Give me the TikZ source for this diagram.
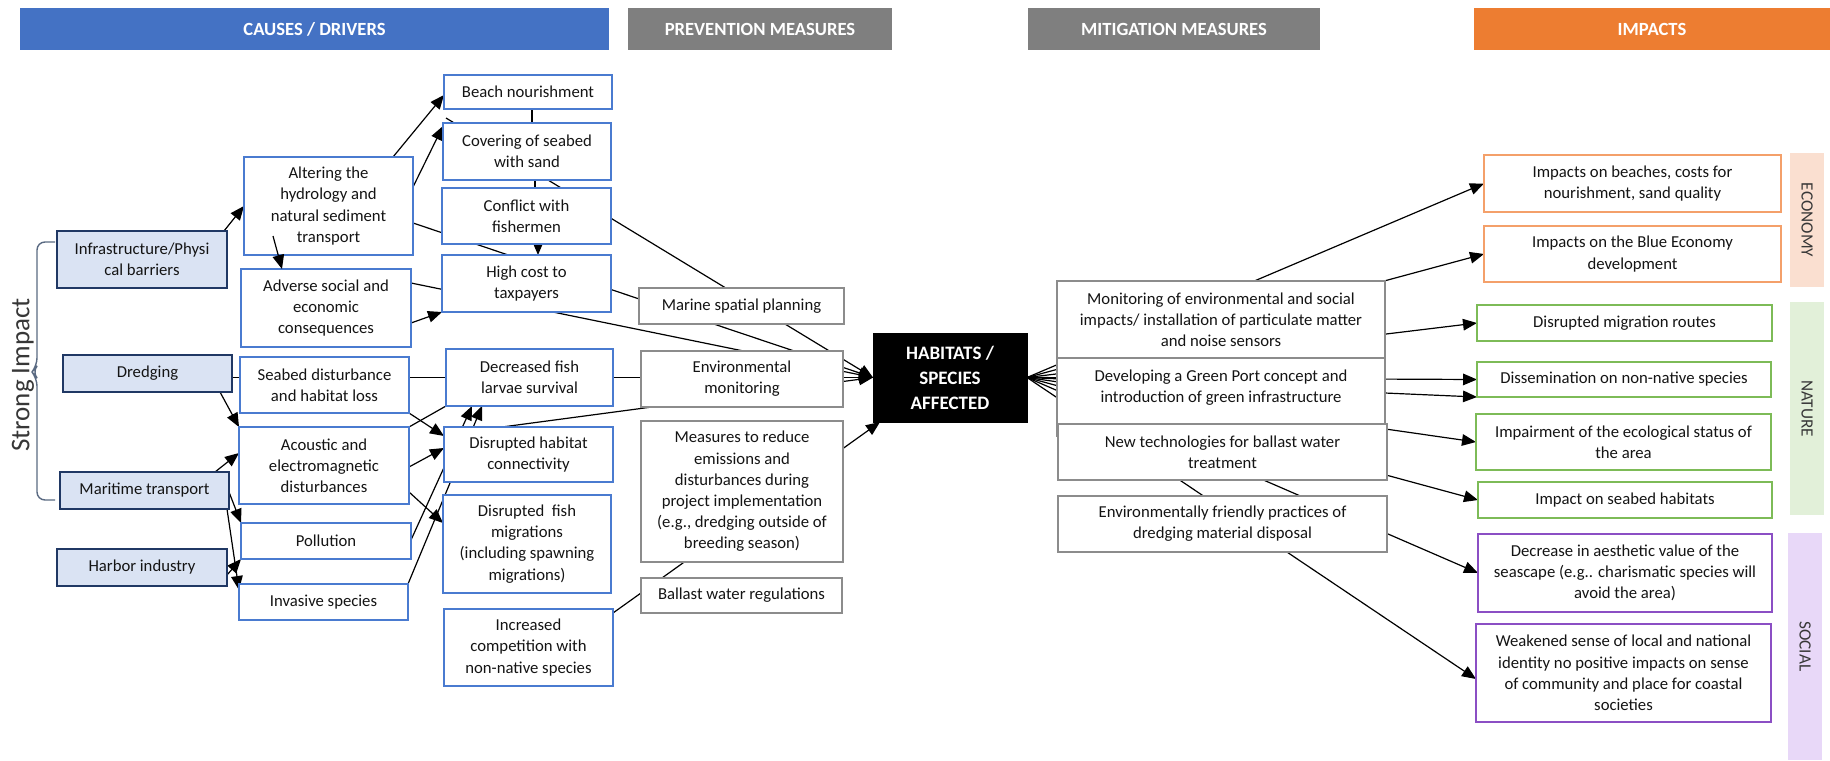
\documentclass[tikz,border=0pt]{standalone}
\usepackage{fontspec}
\setmainfont{Carlito}
\usetikzlibrary{arrows.meta,calc}
\pgfdeclarelayer{bg}
\pgfsetlayers{bg,main}

\definecolor{causeblue}{HTML}{4472C4}
\definecolor{headgray}{HTML}{7F7F7F}
\definecolor{headorange}{HTML}{ED7D31}
\definecolor{navy}{HTML}{203864}
\definecolor{paleblue}{HTML}{DAE3F3}
\definecolor{boxblue}{HTML}{4A7BD0}
\definecolor{boxgray}{HTML}{8C8C8C}
\definecolor{ecoline}{HTML}{F4A06A}
\definecolor{natline}{HTML}{7DBB57}
\definecolor{socline}{HTML}{8B4FC4}
\definecolor{ecofill}{HTML}{FADFD0}
\definecolor{natfill}{HTML}{E2F0D9}
\definecolor{socfill}{HTML}{E8D8F8}
\definecolor{ink}{HTML}{141414}
\definecolor{bracec}{HTML}{5A6A82}

% box given by its corners (x1,y1)-(x2,y2) in pixel units, y pointing down
\newcommand{\mkbox}[7]{%
  \node[#6, minimum width={(#4-#2)*0.5pt}, minimum height={(#5-#3)*0.5pt}]
    (#1) at ({(#2+#4)/2},{(#3+#5)/2}) {#7};}

\begin{document}
\begin{tikzpicture}[x=0.5pt, y=-0.5pt,
  font=\fontsize{8.35}{10.6}\selectfont,
  base/.style={draw, fill=white, inner sep=1pt, outer sep=0pt, align=center,
    text=ink, line width=0.6pt},
  cause/.style={base, draw=navy, fill=paleblue, line width=1.4pt},
  blu/.style={base, draw=boxblue},
  gry/.style={base, draw=boxgray},
  eco/.style={base, draw=ecoline},
  nat/.style={base, draw=natline},
  soc/.style={base, draw=socline},
  head/.style={fill=#1, draw=none, text=white, inner sep=0pt, outer sep=0pt,
    font=\fontsize{9.3}{11}\selectfont\bfseries},
  band/.style={fill=#1, draw=none, inner sep=0pt, outer sep=0pt, text=ink!85,
    font=\fontsize{8.6}{10}\selectfont},
  hub/.style={fill=black, draw=black, text=white, inner sep=0pt, outer sep=0pt,
    align=center, font=\fontsize{9.5}{12.5}\selectfont\bfseries},
  link/.style={line width=0.6pt, draw=black},
  arr/.style={link, -{Triangle[length=7pt,width=5.8pt]}}
]
\useasboundingbox (0,0) rectangle (1830,760);
\begin{pgfonlayer}{bg}
  \fill[white] (0,0) rectangle (1830,760);
\end{pgfonlayer}

% column headers
\mkbox{hcause}{20}{8}{609}{50}{head=causeblue}{CAUSES / DRIVERS}
\mkbox{hprev}{628}{8}{892}{50}{head=headgray}{PREVENTION MEASURES}
\mkbox{hmitig}{1028}{8}{1320}{50}{head=headgray}{MITIGATION MEASURES}
\mkbox{himpact}{1474}{8}{1830}{50}{head=headorange}{IMPACTS}

% strong impact brace
\node[rotate=90, text=ink!85, font=\fontsize{13.5}{15}\selectfont] (strong) at (23,375) {Strong Impact};
\draw[bracec, line width=0.7pt, rounded corners=4] (55,242) -| (37,366) -- (32,372) -- (37,378) |- (55,500);

% drivers
\mkbox{infra}{57}{231}{227}{288}{cause}{Infrastructure/Physi\\cal barriers}
\mkbox{dredg}{63}{355}{232}{392}{cause}{Dredging}
\mkbox{marit}{60}{472}{229}{509}{cause}{Maritime transport}
\mkbox{harb}{57}{549}{227}{586}{cause}{Harbor industry}

% pressures
\mkbox{alter}{244}{157}{413}{255}{blu}{Altering the\\hydrology and\\natural sediment\\transport}
\mkbox{adver}{241}{269}{411}{347}{blu}{Adverse social and\\economic\\consequences}
\mkbox{seabd}{240}{357}{409}{413}{blu}{Seabed disturbance\\and habitat loss}
\mkbox{acous}{239}{427}{409}{504}{blu}{Acoustic and\\electromagnetic\\disturbances}
\mkbox{pollu}{241}{523}{411}{559}{blu}{Pollution}
\mkbox{invas}{239}{584}{408}{620}{blu}{Invasive species}

% effects
\mkbox{beach}{444}{75}{612}{109}{blu}{Beach nourishment}
\mkbox{cover}{443}{123}{611}{180}{blu}{Covering of seabed\\with sand}
\mkbox{confl}{442}{188}{611}{244}{blu}{Conflict with\\fishermen}
\mkbox{hcost}{442}{255}{611}{312}{blu}{High cost to\\taxpayers}
\mkbox{larva}{446}{349}{613}{406}{blu}{Decreased fish\\larvae survival}
\mkbox{habco}{444}{427}{613}{482}{blu}{Disrupted habitat\\connectivity}
\mkbox{fishm}{443}{495}{611}{593}{blu}{Disrupted\ \ fish\\migrations\\(including spawning\\migrations)}
\mkbox{compt}{444}{609}{613}{686}{blu}{Increased\\competition with\\non-native species}

% prevention measures
\mkbox{msp}{639}{288}{844}{324}{gry}{Marine spatial planning}
\mkbox{envm}{641}{351}{843}{407}{gry}{Environmental\\monitoring}
\mkbox{meas}{641}{421}{843}{562}{gry}{Measures to reduce\\emissions and\\disturbances during\\project implementation\\(e.g., dredging outside of\\breeding season)}
\mkbox{ballast}{641}{578}{842}{613}{gry}{Ballast water regulations}

% central node
\mkbox{hab}{873}{333}{1027}{422}{hub}{HABITATS /\\SPECIES\\AFFECTED}

% mitigation measures
\mkbox{mon}{1057}{281}{1385}{358}{gry}{Monitoring of environmental and social\\impacts/ installation of particulate matter\\and noise sensors}
\mkbox{green}{1057}{358}{1385}{436}{gry}{Developing a Green Port concept and\\introduction of green infrastructure\\~}
\mkbox{tech}{1058}{424}{1387}{480}{gry}{New technologies for ballast water\\treatment}
\mkbox{disp}{1058}{496}{1387}{552}{gry}{Environmentally friendly practices of\\dredging material disposal}

% impact categories
\mkbox{beco}{1790}{153}{1824}{287}{band=ecofill}{\rotatebox{-90}{ECONOMY}}
\mkbox{bnat}{1790}{302}{1824}{515}{band=natfill}{\rotatebox{-90}{NATURE}}
\mkbox{bsoc}{1788}{533}{1822}{760}{band=socfill}{\rotatebox{-90}{SOCIAL}}

% impacts
\mkbox{iBeach}{1484}{155}{1781}{212}{eco}{Impacts on beaches, costs for\\nourishment, sand quality}
\mkbox{iBlue}{1484}{226}{1781}{282}{eco}{Impacts on the Blue Economy\\development}
\mkbox{iMigr}{1477}{305}{1772}{341}{nat}{Disrupted migration routes}
\mkbox{iDiss}{1477}{362}{1771}{397}{nat}{Dissemination on non-native species}
\mkbox{iImp}{1476}{414}{1771}{470}{nat}{Impairment of the ecological status of\\the area}
\mkbox{iSea}{1478}{482}{1772}{518}{nat}{Impact on seabed habitats}
\mkbox{iAes}{1478}{534}{1772}{612}{soc}{Decrease in aesthetic value of the\\seascape (e.g.. charismatic species will\\avoid the area)}
\mkbox{iWeak}{1476}{624}{1771}{722}{soc}{Weakened sense of local and national\\identity no positive impacts on sense\\of community and place for coastal\\societies}

% connectors (behind the boxes)
\begin{pgfonlayer}{bg}
  % drivers to pressures
  \draw[arr] ($(infra.north east)+(-3,0)$) -- ($(alter.north west)+(0,49)$);
  \draw[arr] ($(dredg.south east)+(-12,0)$) -- (acous.north west);
  \draw[arr] ($(marit.north east)+(-14,0)$) -- ($(acous.north west)+(0,26)$);
  \draw[arr] ($(marit.north east)+(0,20)$) -- (pollu.north west);
  \draw[arr] ($(marit.south east)+(-2,0)$) -- ($(invas.north west)+(0,6)$);
  \draw[arr] ($(harb.north east)+(0,26)$) -- (pollu.south west);
  % pressures to effects
  \draw[arr] ($(alter.north west)+(149,0)$) -- ($(beach.north west)+(0,20)$);
  \draw[arr] ($(alter.north east)+(0,30)$) -- ($(cover.north west)+(0,3)$);
  \draw[arr] ($(adver.north east)+(0,54)$) -- (hcost.south west);
  \draw[link] ($(beach.south west)+(88,0)$) -- ($(cover.north west)+(89,0)$);
  \draw[link] ($(cover.south west)+(92,0)$) -- ($(confl.north west)+(93,0)$);
  \draw[arr] ($(confl.south west)+(96,-4)$) -- ($(hcost.north west)+(96,0)$);
  \draw[arr] (seabd.south east) -- ($(habco.north west)+(0,9)$);
  \draw[link] (acous.north east) -- (larva.south west);
  \draw[arr] ($(acous.north east)+(0,40)$) -- ($(habco.north west)+(0,21)$);
  \draw[arr] ($(acous.north east)+(0,65)$) -- ($(fishm.north west)+(0,28)$);
  \draw[arr] ($(pollu.north east)+(0,17)$) -- ($(larva.south west)+(26,0)$);
  \draw[arr] (invas.north east) -- ($(larva.south west)+(36,0)$);
  % into the habitats node
  \draw[arr] ($(cover.north west)+(3,-5)$) -- (hab.west);
  \draw[arr] ($(alter.north east)+(0,66)$) -- (hab.west);
  \draw[arr] ($(adver.north east)+(0,14)$) -- (hab.west);
  \draw[arr] (dredg.east |- hab.west) -- (hab.west);
  \draw[arr] ($(habco.north west)+(58,0)$) -- (hab.west);
  \draw[arr] ($(compt.north east)+(0,4)$) -- ($(hab.south west)+(7,0)$);
  % out of the habitats node
  \draw[arr] (hab.east) -- (iBeach.west);
  \draw[arr] (hab.east) -- (iBlue.west);
  \draw[arr] (hab.east) -- (iMigr.west);
  \draw[arr] (hab.east) -- (iDiss.west);
  \draw[arr] (hab.east) -- (iDiss.south west);
  \draw[arr] (hab.east) -- (iImp.west);
  \draw[arr] (hab.east) -- (iSea.west);
  \draw[arr] (hab.east) -- (iAes.west);
  \draw[arr] (hab.east) -- ($(iWeak.west)+(0,6)$);
\end{pgfonlayer}

% link running out of the lower part of the hydrology box
\draw[arr] ($(alter.north west)+(29,79)$) -- ($(adver.north west)+(41,0)$);
\end{tikzpicture}
\end{document}
